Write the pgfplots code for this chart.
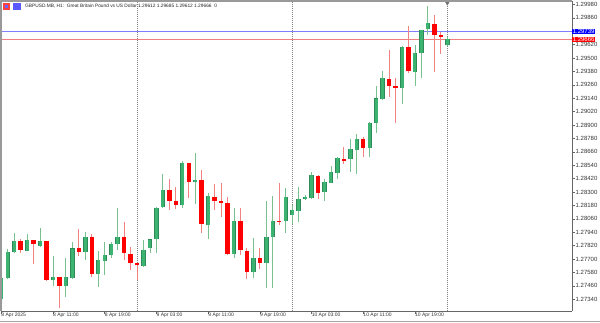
\documentclass[border=0pt]{standalone}
\usepackage{fontspec}
\setmainfont{Liberation Sans}
\usepackage{pgfplots}
\usepackage{pgfplotstable}
\pgfplotsset{compat=1.18}
\definecolor{gbody}{RGB}{60,179,113}
\definecolor{gline}{RGB}{46,139,87}
\definecolor{gwick}{RGB}{120,192,142}
\definecolor{rwick}{RGB}{240,130,130}
\definecolor{sepc}{RGB}{128,128,128}
\definecolor{askc}{RGB}{128,128,255}
\definecolor{bidc}{RGB}{240,128,128}
\pgfplotstableread{
t o h l c
3 1.27343 1.27540 1.27307 1.27528
4 1.27531 1.27790 1.27522 1.27766
5 1.27761 1.27931 1.27755 1.27862
7 1.27775 1.27924 1.27770 1.27871
9 1.27814 1.27975 1.27810 1.27862
11 1.27510 1.27727 1.27459 1.27540
13 1.27462 1.27707 1.27358 1.27537
14 1.27528 1.27850 1.27525 1.27796
16 1.27766 1.27945 1.27692 1.27895
18 1.27569 1.27772 1.27447 1.27692
19 1.27685 1.27853 1.27557 1.27734
20 1.27736 1.27850 1.27712 1.27832
21 1.27832 1.28160 1.27787 1.27900
25 1.27641 1.27871 1.27626 1.27781
26 1.27796 1.27884 1.27752 1.27877
27 1.27877 1.28163 1.27757 1.28160
28 1.28163 1.28461 1.28160 1.28318
31 1.28184 1.28580 1.28154 1.28564
33 1.28392 1.28647 1.28190 1.28408
35 1.28005 1.28289 1.27877 1.28264
39 1.27743 1.28160 1.27707 1.28043
42 1.27587 1.27886 1.27528 1.27707
44 1.27668 1.28220 1.27444 1.27900
45 1.27895 1.28264 1.27444 1.28043
47 1.28043 1.28333 1.27936 1.28258
48 1.28092 1.28184 1.28014 1.28139
49 1.28128 1.28342 1.28034 1.28238
50 1.28238 1.28269 1.28229 1.28255
51 1.28247 1.28477 1.28240 1.28450
53 1.28298 1.28414 1.28222 1.28390
54 1.28383 1.28533 1.28380 1.28479
55 1.28473 1.28616 1.28419 1.28602
57 1.28593 1.28772 1.28482 1.28685
58 1.28679 1.28819 1.28459 1.28775
60 1.28697 1.28925 1.28616 1.28920
61 1.28920 1.29249 1.28831 1.29139
62 1.29132 1.29383 1.29128 1.29318
65 1.29234 1.29605 1.29085 1.29601
67 1.29377 1.29616 1.29252 1.29547
68 1.29547 1.29755 1.29318 1.29750
69 1.29756 1.29965 1.29705 1.29815
72 1.29612 1.29685 1.29612 1.29666
}\greens
\pgfplotstableread{
t o h l c
6 1.27862 1.27877 1.27757 1.27779
8 1.27868 1.27871 1.27653 1.27832
10 1.27862 1.27865 1.27504 1.27513
12 1.27540 1.27542 1.27259 1.27462
15 1.27796 1.27969 1.27727 1.27766
17 1.27900 1.27924 1.27537 1.27566
22 1.27895 1.28029 1.27692 1.27752
23 1.27745 1.27811 1.27608 1.27662
24 1.27662 1.27668 1.27513 1.27644
29 1.28318 1.28414 1.28139 1.28220
30 1.28222 1.28348 1.28145 1.28184
32 1.28557 1.28564 1.28249 1.28392
34 1.28408 1.28497 1.27931 1.28011
36 1.28258 1.28372 1.28139 1.28220
37 1.28220 1.28378 1.28079 1.28199
38 1.28204 1.28258 1.27734 1.27743
40 1.28043 1.28154 1.27736 1.27781
41 1.27772 1.27802 1.27522 1.27582
43 1.27712 1.27796 1.27608 1.27662
46 1.28043 1.28385 1.28005 1.28038
52 1.28446 1.28452 1.28235 1.28294
56 1.28594 1.28703 1.28551 1.28588
59 1.28772 1.28795 1.28611 1.28697
63 1.29309 1.29571 1.29153 1.29252
64 1.29252 1.29318 1.28920 1.29237
66 1.29601 1.29788 1.29368 1.29383
70 1.29810 1.29884 1.29377 1.29705
71 1.29705 1.29729 1.29533 1.29696
}\reds
\begin{document}
\begin{tikzpicture}
\useasboundingbox (0,0) rectangle (600pt,322pt);
\begin{axis}[
  at={(1pt,11pt)}, anchor=south west,
  scale only axis, width=571pt, height=310pt,
  xmin=2.955, xmax=91.29, ymin=1.27235, ymax=1.30010,
  clip mode=individual,
  axis x line*=bottom, axis y line*=right,
  axis line style={draw=black!60, line width=0.6pt},
  tick align=outside, major tick length=3pt,
  tick style={draw=black!60, line width=0.5pt},
  xtick={3,11,19,27,35,43,51,59,67},
  xticklabels={8 Apr 2025,8 Apr 11:00,8 Apr 19:00,9 Apr 03:00,9 Apr 11:00,9 Apr 19:00,10 Apr 03:00,10 Apr 11:00,10 Apr 19:00},
  x tick label style={anchor=north west, inner sep=0pt, xshift=0pt, yshift=1pt, font=\fontsize{5}{6}\selectfont, text=black!80},
  ytick={1.2734,1.2746,1.2758,1.2770,1.2782,1.2794,1.2806,1.2818,1.2830,1.2842,1.2854,1.2866,1.2878,1.2890,1.2902,1.2914,1.2926,1.2938,1.2950,1.2962,1.2986,1.2998},
  extra y ticks={1.2974}, extra y tick labels={},
  y tick label style={anchor=west, inner sep=0pt, xshift=0.5pt, font=\fontsize{6}{7}\selectfont, text=black!80,
    /pgf/number format/.cd, fixed, fixed zerofill, precision=5, assume math mode=true},
  scaled y ticks=false,
]
% separators
\addplot[sepc, line width=0.6pt, dash pattern=on 1pt off 1pt, forget plot] coordinates {(24,1.27235) (24,1.30010)};
\addplot[sepc, line width=0.6pt, dash pattern=on 1pt off 1pt, forget plot] coordinates {(48,1.27235) (48,1.30010)};
\addplot[sepc, line width=0.6pt, dash pattern=on 1pt off 1pt, forget plot] coordinates {(72,1.27235) (72,1.30010)};
% ask / bid lines
\addplot[askc, line width=0.8pt, forget plot] coordinates {(2.955,1.29739) (91.29,1.29739)};
\addplot[bidc, line width=0.8pt, forget plot] coordinates {(2.955,1.29666) (91.29,1.29666)};
% wicks
\addplot[draw=none, mark=none, forget plot, error bars/.cd, y dir=both, y explicit, error mark=none,
  error bar style={draw=gwick, line width=0.9pt}]
  table[x=t, y expr={(\thisrow{h}+\thisrow{l})/2}, y error expr={(\thisrow{h}-\thisrow{l})/2}] \greens;
\addplot[draw=none, mark=none, forget plot, error bars/.cd, y dir=both, y explicit, error mark=none,
  error bar style={draw=rwick, line width=0.9pt}]
  table[x=t, y expr={(\thisrow{h}+\thisrow{l})/2}, y error expr={(\thisrow{h}-\thisrow{l})/2}] \reds;
% green bodies
\addplot[draw=none, only marks, mark=-, mark size=2.2pt, mark options={draw=gline, line width=1pt}, forget plot, error bars/.cd, y dir=both, y explicit, error mark=none,
  error bar style={draw=gline, line width=4.4pt}]
  table[x=t, y expr={(\thisrow{o}+\thisrow{c})/2}, y error expr={abs(\thisrow{c}-\thisrow{o})/2}] \greens;
\addplot[draw=none, mark=none, forget plot, error bars/.cd, y dir=both, y explicit, error mark=none,
  error bar style={draw=gbody, line width=3.0pt}]
  table[x=t, y expr={(\thisrow{o}+\thisrow{c})/2}, y error expr={abs(\thisrow{c}-\thisrow{o})/2-0.000006}] \greens;
% red bodies
\addplot[draw=none, only marks, mark=-, mark size=2.2pt, mark options={draw=red, line width=1pt}, forget plot, error bars/.cd, y dir=both, y explicit, error mark=none,
  error bar style={draw=red, line width=4.4pt}]
  table[x=t, y expr={(\thisrow{o}+\thisrow{c})/2}, y error expr={abs(\thisrow{c}-\thisrow{o})/2}] \reds;
% shift marker
\addplot[only marks, mark=triangle*, mark size=2pt, mark options={rotate=180, fill=black!55, draw=black!55}, forget plot] coordinates {(72,1.29990)};
% price labels
\node[anchor=west, fill=blue, text=white, inner sep=0.6pt, font=\fontsize{6}{7}\selectfont] at (axis cs:91.29,1.29739) {1.29739};
\node[anchor=west, fill=red, text=white, inner sep=0.6pt, font=\fontsize{6}{7}\selectfont] at (axis cs:91.29,1.29666) {1.29666};
\end{axis}
% chart frame (left/top)
\draw[black!40, line width=1.5pt] (1pt,11pt) -- (1pt,321pt) -- (572pt,321pt);
\draw[black!35, line width=1pt] (0pt,0.5pt) -- (600pt,0.5pt);
% title bar icons and text
\fill[red!75] (3pt,312pt) rectangle (10pt,319pt);
\fill[blue!60] (5pt,314pt) rectangle (8pt,317pt);
\fill[blue!65] (13pt,312pt) rectangle (21pt,319pt);
\node[anchor=west, inner sep=0pt, font=\fontsize{4.8}{6}\selectfont, text=black!85] at (25pt,316pt) {GBPUSD.MB, H1:\ \ Great Britain Pound vs US Dollar};
\node[anchor=west, inner sep=0pt, font=\fontsize{4.8}{6}\selectfont, text=black!85] at (138pt,316pt) {1.29612 1.29685 1.29612 1.29666\ \ 0};
\end{tikzpicture}
\end{document}
